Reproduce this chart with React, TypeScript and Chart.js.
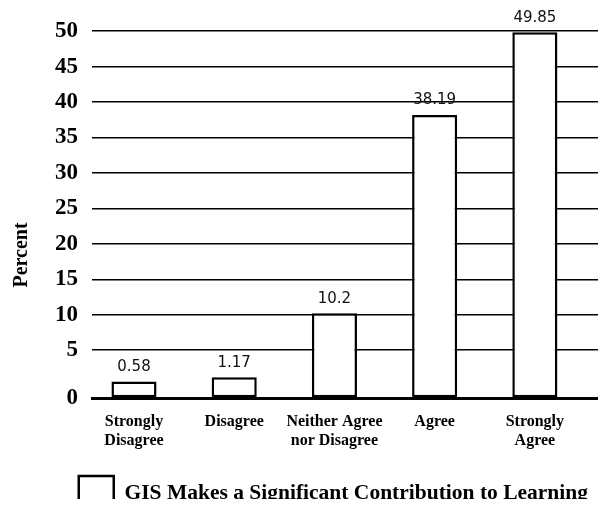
import React, { useEffect, useRef } from 'react';
import { Chart, registerables } from 'chart.js';

Chart.register(...registerables);

const categories: string[][] = [
  ['Strongly', 'Disagree'],
  ['Disagree'],
  ['Neither Agree', 'nor Disagree'],
  ['Agree'],
  ['Strongly', 'Agree'],
];
const values: number[] = [0.58, 1.17, 10.2, 38.19, 49.85];
const valueLabels: string[] = ['0.58', '1.17', '10.2', '38.19', '49.85'];
const yTickValues: number[] = [0, 5, 10, 15, 20, 25, 30, 35, 40, 45, 50];
const seriesLabel = 'GIS Makes a Significant Contribution to Learning';
const axisTitle = 'Percent';

// the printed chart's baseline sits slightly below the value 0
const AXIS_FLOOR = -1.75;
const SERIF = '"Liberation Serif", "DejaVu Serif", serif';
const SANS = '"DejaVu Sans", Verdana, sans-serif';

const valueLabelPlugin = {
  id: 'valueLabels',
  afterDatasetsDraw(chart: any) {
    const ctx = chart.ctx;
    const meta = chart.getDatasetMeta(0);
    ctx.save();
    ctx.font = `15px ${SANS}`;
    ctx.fillStyle = '#111';
    ctx.textAlign = 'center';
    ctx.textBaseline = 'bottom';
    meta.data.forEach((bar: any, i: number) => {
      ctx.fillText(valueLabels[i], bar.x, bar.y - 7);
    });
    ctx.restore();
  },
};

const yTitlePlugin = {
  id: 'yTitle',
  afterDraw(chart: any) {
    const ctx = chart.ctx;
    ctx.save();
    ctx.translate(14, 247);
    ctx.rotate(-Math.PI / 2);
    ctx.font = `bold 20px ${SERIF}`;
    ctx.fillStyle = '#000';
    ctx.textAlign = 'center';
    ctx.textBaseline = 'middle';
    ctx.fillText(axisTitle, 0, 0);
    ctx.restore();
  },
};

export default function App() {
  const canvasRef = useRef<HTMLCanvasElement | null>(null);

  useEffect(() => {
    if (!canvasRef.current) return;
    const chart = new Chart(canvasRef.current, {
      type: 'bar',
      data: {
        datasets: [
          {
            label: seriesLabel,
            data: values.map((v, i) => ({ x: i, y: v })),
            backgroundColor: '#ffffff',
            borderColor: '#000000',
            borderWidth: 2.5,
            borderSkipped: false,
            base: AXIS_FLOOR,
            barPercentage: 0.45,
            categoryPercentage: 1,
          } as any,
        ],
      },
      options: {
        animation: false,
        responsive: true,
        maintainAspectRatio: false,
        layout: { padding: { top: 22, right: 0, left: 0, bottom: -13 } },
        scales: {
          x: {
            type: 'linear',
            offset: false,
            min: -0.419,
            max: 4.63,
            afterBuildTicks: (scale: any) => {
              scale.ticks = categories.map((_, i) => ({ value: i }));
            },
            afterFit: (scale: any) => {
              scale.height = 68;
            },
            ticks: {
              autoSkip: false,
              maxRotation: 0,
              padding: 15,
              color: '#000',
              font: { family: SERIF, size: 16, weight: 'bold', lineHeight: 1.15 },
              callback: (v: any) => categories[v] ?? '',
            },
            grid: { display: false, drawTicks: false, offset: false },
            border: { display: true, color: '#000', width: 3 },
          },
          y: {
            type: 'linear',
            min: AXIS_FLOOR,
            max: 50,
            afterBuildTicks: (scale: any) => {
              scale.ticks = yTickValues.map((v) => ({ value: v === 0 ? AXIS_FLOOR : v }));
            },
            afterFit: (scale: any) => {
              scale.width = 84;
            },
            ticks: {
              padding: 14,
              color: '#000',
              font: { family: SERIF, size: 23, weight: 'bold', lineHeight: 0.8 },
              callback: (v: any) => (v === AXIS_FLOOR ? '0' : String(v)),
            },
            grid: { color: '#000', lineWidth: 1.5, drawTicks: false },
            border: { display: false },
          },
        },
        plugins: {
          legend: {
            position: 'bottom',
            align: 'end',
            labels: {
              boxWidth: 35,
              boxHeight: 34,
              padding: 10,
              color: '#000',
              font: { family: SERIF, size: 21.5, weight: 'bold' },
            },
          },
          tooltip: { enabled: false },
        },
      } as any,
      plugins: [valueLabelPlugin, yTitlePlugin],
    });
    return () => chart.destroy();
  }, []);

  return (
    <div style={{ width: 590, height: 499, marginBottom: -8, position: 'relative' }}>
      <canvas ref={canvasRef} />
    </div>
  );
}
